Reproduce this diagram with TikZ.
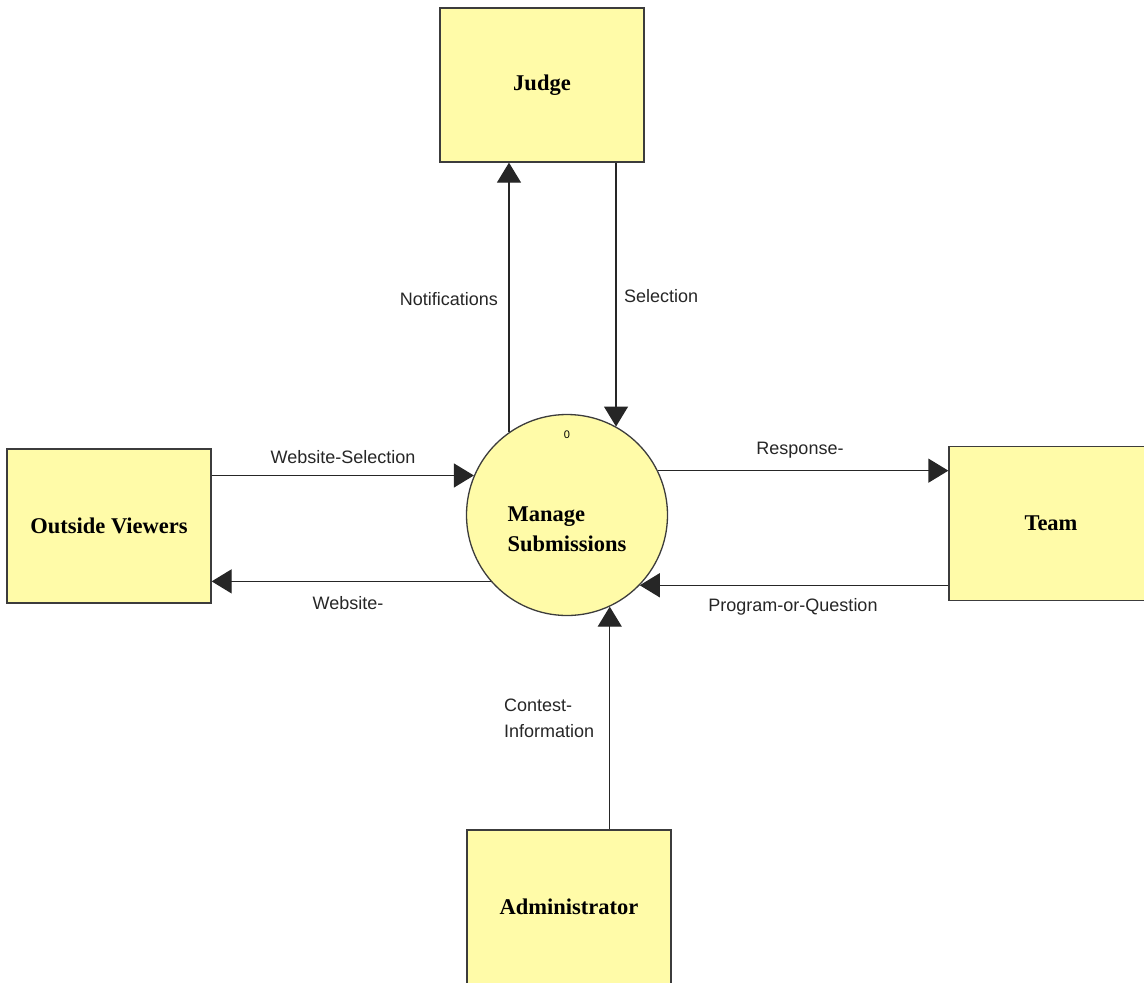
\documentclass[tikz,border=0pt]{standalone}
\usepackage{fontspec}
\setmainfont{Liberation Serif}
\newfontfamily\labfont{Liberation Sans}
\usetikzlibrary{arrows.meta}
\definecolor{boxfill}{HTML}{FFFBA8}
\definecolor{boxline}{HTML}{3C3C3C}
\tikzset{
  entity/.style={draw=boxline, line width=1.3pt, fill=boxfill, minimum width=204pt, minimum height=154pt, inner sep=0pt, font=\bfseries\fontsize{22.5}{30}\selectfont},
  process/.style={draw=boxline, line width=1.3pt, fill=boxfill, circle, minimum size=201pt, inner sep=0pt},
  flow/.style={draw=black!85, line width=1.3pt, -{Triangle[length=20pt,width=24pt]}},
  lab/.style={font=\labfont\fontsize{18}{26}\selectfont, text=black!85, inner sep=0pt}
}
\begin{document}
\begin{tikzpicture}[x=1pt,y=-1pt]
\useasboundingbox (0,0) rectangle (1144,983);
\node[entity] (judge) at (542,85) {Judge};
\node[entity] (ov) at (109,526) {Outside Viewers};
\node[entity] (team) at (1051,523.5) {Team};
\node[entity] (admin) at (569,907) {Administrator};
\node[process] (circ) at (567,515) {};
\node[font=\bfseries\fontsize{22.5}{30}\selectfont, align=left, inner sep=0pt] (ptext) at (567,529) {Manage\\Submissions};
\node[font=\labfont\fontsize{11}{12}\selectfont, inner sep=0pt] (pnum) at (567,435) {0};
% connectors
\draw[flow] (circ.125.6) -- (circ.125.6 |- judge.south);
\draw[flow] (judge.south -| circ.61.8) -- (circ.61.8);
\draw[flow] (ov.east |- circ.157.8) -- (circ.157.8);
\draw[flow] (circ.221) -- (ov.east |- circ.221);
\draw[flow] (circ.26.6) -- (team.west |- circ.26.6);
\draw[flow] (team.west |- circ.-44.2) -- (circ.-44.2);
\draw[flow] (admin.north -| circ.-65.9) -- (circ.-65.9);
% labels
\node[lab, anchor=east] (l1) at (498,299) {Notifications};
\node[lab, anchor=west] (l2) at (624,296) {Selection};
\node[lab] (l3) at (343,457) {Website-Selection};
\node[lab] (l4) at (348,603) {Website-};
\node[lab] (l5) at (800,450) {Response-};
\node[lab] (l6) at (793,607) {Program-or-Question};
\node[lab, anchor=west, align=left] (l7) at (504,718) {Contest-\\Information};
\end{tikzpicture}
\end{document}
